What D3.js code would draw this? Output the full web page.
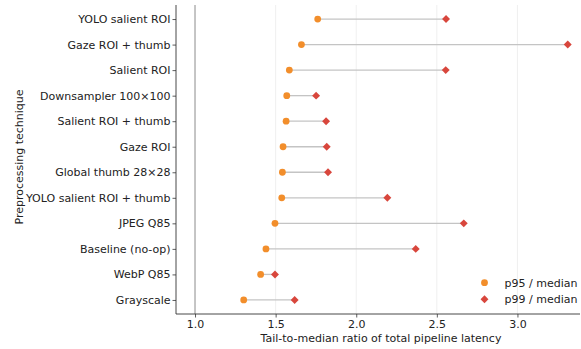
<!DOCTYPE html>
<html><head><meta charset="utf-8">
<script src="https://cdn.jsdelivr.net/npm/d3@7"></script>
<style>
body{margin:0;background:#fff;}
svg{display:block;font-family:"DejaVu Sans",sans-serif;}
</style></head>
<body><svg id="chart" width="581" height="349"></svg>
<script>
const categories = ["YOLO salient ROI","Gaze ROI + thumb","Salient ROI","Downsampler 100×100","Salient ROI + thumb","Gaze ROI","Global thumb 28×28","YOLO salient ROI + thumb","JPEG Q85","Baseline (no-op)","WebP Q85","Grayscale"];
const p95 = [1.761,1.660,1.585,1.569,1.565,1.546,1.542,1.538,1.496,1.440,1.407,1.302];
const p99 = [2.557,3.312,2.555,1.751,1.813,1.817,1.825,2.193,2.667,2.369,1.496,1.618];
const xTicks = [1.0,1.5,2.0,2.5,3.0];
const seriesNames = ["p95 / median","p99 / median"];

const svg = d3.select("#chart");
const m = {left:176, right:580, top:5, bottom:314};
const x = d3.scaleLinear().domain([0.882,3.388]).range([m.left,m.right]);
const y = d3.scalePoint().domain(categories).range([m.top,m.bottom]).padding(0.55);
const orange = "#f28e2b", red = "#d8463c";
const fs = 11;

svg.append("g").selectAll("line").data(xTicks).join("line")
  .attr("x1",d=>x(d)).attr("x2",d=>x(d)).attr("y1",m.top).attr("y2",m.bottom)
  .attr("stroke","#ebebeb").attr("stroke-width",0.8);
svg.append("line").attr("x1",x(1)).attr("x2",x(1)).attr("y1",m.top).attr("y2",m.bottom)
  .attr("stroke","#aaaaaa").attr("stroke-width",1.3);

const rows = categories.map((c,i)=>({c,a:p95[i],b:p99[i]}));
svg.append("g").selectAll("line").data(rows).join("line")
  .attr("x1",d=>x(d.a)).attr("x2",d=>x(d.b)).attr("y1",d=>y(d.c)).attr("y2",d=>y(d.c))
  .attr("stroke","#c4c4c4").attr("stroke-width",1.3);
svg.append("g").selectAll("circle").data(rows).join("circle")
  .attr("cx",d=>x(d.a)).attr("cy",d=>y(d.c)).attr("r",3.4).attr("fill",orange);
const diamond = d3.symbol().type(d3.symbolDiamond2).size(40);
svg.append("g").selectAll("path").data(rows).join("path")
  .attr("d",diamond).attr("transform",d=>`translate(${x(d.b)},${y(d.c)})`)
  .attr("fill",red);

const xAxis = svg.append("g").attr("transform",`translate(0,${m.bottom})`)
  .call(d3.axisBottom(x).tickValues(xTicks).tickFormat(d3.format(".1f")).tickSizeOuter(0).tickSize(3.5));
const yAxis = svg.append("g").attr("transform",`translate(${m.left},0)`)
  .call(d3.axisLeft(y).tickSizeOuter(0).tickSize(3.5));
[xAxis,yAxis].forEach(g=>{
  g.select(".domain").attr("stroke","#333").attr("stroke-width",0.9);
  g.selectAll(".tick line").attr("stroke","#333").attr("stroke-width",0.8);
  g.selectAll("text").attr("font-size",fs).attr("fill","#222").attr("font-family","DejaVu Sans");
});
xAxis.select(".domain").attr("d",`M${m.left},0H${m.right}`);
yAxis.select(".domain").attr("d",`M0,${m.top}V${m.bottom}`);
xAxis.selectAll("text").attr("dy","0.71em").attr("y",6.5);
yAxis.selectAll("text").attr("x",-5.5);

svg.append("text").attr("x",381).attr("y",338.5).attr("dy","0.35em").attr("text-anchor","middle")
  .attr("font-size",fs).attr("fill","#222").text("Tail-to-median ratio of total pipeline latency");
svg.append("text").attr("transform",`translate(19,157) rotate(-90)`).attr("dy","0.35em")
  .attr("text-anchor","middle").attr("font-size",fs).attr("fill","#222").text("Preprocessing technique");

const lg = svg.append("g");
lg.append("circle").attr("cx",484.5).attr("cy",282.7).attr("r",3.4).attr("fill",orange);
lg.append("path").attr("d",diamond).attr("transform","translate(484.5,299.3)").attr("fill",red);
lg.selectAll("text").data(seriesNames).join("text")
  .attr("x",504.5).attr("y",(d,i)=>282.7+i*16.6).attr("dy","0.35em")
  .attr("font-size",fs).attr("fill","#222").text(d=>d);
</script></body></html>
